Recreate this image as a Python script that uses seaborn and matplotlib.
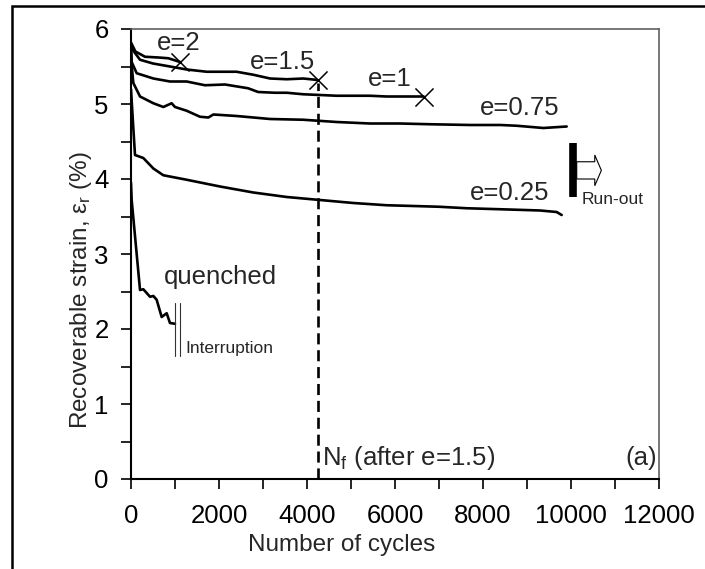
import numpy as np
import pandas as pd
import matplotlib
matplotlib.use("Agg")
import matplotlib.pyplot as plt
import seaborn as sns
from matplotlib.patches import Rectangle, FancyArrow
from matplotlib.ticker import MultipleLocator

# ---------------- data ----------------
e2_x = [0, 100, 318, 621, 848, 1114]
e2_y = [5.82, 5.70, 5.63, 5.62, 5.61, 5.56]

e15_x = [0, 15, 205, 500, 886, 1265, 1720, 2400, 2780, 3160, 3540, 3916, 4242]
e15_y = [5.80, 5.74, 5.59, 5.54, 5.50, 5.46, 5.43, 5.43, 5.39, 5.34, 5.33, 5.34, 5.32]

e1_x = [0, 15, 130, 508, 886, 1265, 1680, 2136, 2660, 2890, 3270, 3540, 3910,
        4295, 4674, 5045, 5430, 5810, 6200, 6650]
e1_y = [5.76, 5.56, 5.41, 5.34, 5.30, 5.30, 5.25, 5.26, 5.21, 5.16, 5.15, 5.15, 5.13,
        5.12, 5.11, 5.11, 5.11, 5.10, 5.10, 5.10]

e075_x = [0, 15, 53, 205, 508, 735, 924, 1000, 1265, 1568, 1758, 1871, 2400, 3160,
          3916, 4674, 5430, 6114, 6800, 7705, 8400, 8765, 9371, 9902]
e075_y = [5.70, 5.52, 5.28, 5.10, 5.01, 4.96, 5.01, 4.96, 4.91, 4.83, 4.82, 4.86, 4.84, 4.80,
          4.79, 4.76, 4.74, 4.74, 4.73, 4.72, 4.72, 4.71, 4.68, 4.70]

e025_x = [0, 40, 91, 280, 508, 735, 1265, 2023, 2780, 3540, 4295, 5053, 5811, 6417,
          7000, 7630, 8200, 8765, 9300, 9674, 9788]
e025_y = [5.20, 4.80, 4.32, 4.28, 4.14, 4.05, 3.99, 3.90, 3.82, 3.76, 3.72, 3.68, 3.65, 3.64,
          3.63, 3.61, 3.60, 3.59, 3.58, 3.56, 3.52]

q_x = [0, 15, 205, 280, 356, 432, 508, 583, 697, 811, 886, 1000]
q_y = [3.95, 3.72, 2.52, 2.53, 2.48, 2.43, 2.44, 2.39, 2.16, 2.21, 2.08, 2.07]

series_names = ["e=2", "e=1.5", "e=1", "e=0.75", "e=0.25", "quenched"]
failed = ["e=2", "e=1.5", "e=1"]
nf_cycles = 4250
interruption_x = [1000, 1114]
runout_x = 10045

x_ticks = [0, 2000, 4000, 6000, 8000, 10000, 12000]
y_ticks = [0, 1, 2, 3, 4, 5, 6]

series = {
    "e=2": (e2_x, e2_y), "e=1.5": (e15_x, e15_y), "e=1": (e1_x, e1_y),
    "e=0.75": (e075_x, e075_y), "e=0.25": (e025_x, e025_y), "quenched": (q_x, q_y),
}
df = pd.concat([pd.DataFrame({"cycles": sx, "strain": sy, "series": n})
                for n, (sx, sy) in series.items()], ignore_index=True)

# ---------------- style ----------------
sns.set_style("ticks")
plt.rcParams["font.family"] = ["Liberation Sans", "DejaVu Sans"]
plt.rcParams["mathtext.fontset"] = "custom"
plt.rcParams["mathtext.rm"] = "Liberation Sans"
plt.rcParams["mathtext.it"] = "Liberation Sans:italic"

FS = 18.5
FS_AX = 17.5
FS_S = 12.5

fig = plt.figure(figsize=(7.05, 5.69), dpi=100)
ax = fig.add_axes([131/705, 1-479/569, (659-131)/705, (479-29)/569])

sns.lineplot(data=df, x="cycles", y="strain", hue="series", units="series",
             estimator=None, sort=False, palette=["black"]*len(series_names),
             legend=False, lw=1.9, ax=ax)

# failure crosses
ends = df[df.series.isin(failed)].groupby("series").tail(1)
sns.scatterplot(data=ends, x="cycles", y="strain", marker="x", s=170,
                color="black", linewidth=1.1, ax=ax, zorder=5, legend=False)

# N_f dashed line
ax.plot([nf_cycles, nf_cycles], [0, 5.28], color="black", lw=1.9,
        linestyle=(0, (4.2, 2.2)))

# interruption marks
for ix in interruption_x:
    ax.plot([ix, ix], [1.64, 2.35], color="#333333", lw=0.8)

# run-out bar and arrow
ax.plot([runout_x, runout_x], [3.76, 4.48], color="black", lw=5.5, solid_capstyle="butt")
ax.add_patch(FancyArrow(10130, 4.115, 560, 0, width=0.23, head_width=0.41,
                        head_length=150, length_includes_head=True,
                        fill=False, lw=0.8, ec="black"))

# labels
ax.text(1076, 5.81, "e=2", fontsize=FS, ha="center", va="center")
ax.text(3450, 5.56, "e=1.5", fontsize=FS, ha="center", va="center")
ax.text(5886, 5.34, "e=1", fontsize=FS, ha="center", va="center")
ax.text(8841, 4.94, "e=0.75", fontsize=FS, ha="center", va="center")
ax.text(8614, 3.81, "e=0.25", fontsize=FS, ha="center", va="center")
ax.text(2023, 2.69, "quenched", fontsize=FS, ha="center", va="center")
ax.text(1227, 1.74, "Interruption", fontsize=FS_S, ha="left", va="center")
ax.text(10250, 3.73, "Run-out", fontsize=FS_S, ha="left", va="center")
ax.text(4350, 0.28, r"N$_\mathregular{f}$ (after e=1.5)", fontsize=FS, ha="left", va="center")
ax.text(11950, 0.28, "(a)", fontsize=FS, ha="right", va="center")

# axes
ax.set_xlim(0, 12000)
ax.set_ylim(0, 6)
ax.set_xticks(x_ticks)
ax.set_yticks(y_ticks)
ax.xaxis.set_minor_locator(MultipleLocator(1000))
ax.yaxis.set_minor_locator(MultipleLocator(0.5))
ax.tick_params(axis="both", which="both", direction="out", length=7, width=1.2,
               colors="black", labelsize=FS)
ax.tick_params(axis="x", which="major", pad=11)
ax.tick_params(axis="y", which="major", pad=9)
ax.set_xlabel("Number of cycles", fontsize=FS_AX)
ax.set_ylabel(r"Recoverable strain, ε$_\mathregular{r}$ (%)", fontsize=FS_AX)
ax.xaxis.set_label_coords(0.398, -0.123)
ax.yaxis.set_label_coords(-0.07, 0.42)

for s in ["left", "bottom"]:
    ax.spines[s].set_color("black")
    ax.spines[s].set_linewidth(1.5)
for s in ["top", "right"]:
    ax.spines[s].set_visible(True)
    ax.spines[s].set_color("#606060")
    ax.spines[s].set_linewidth(1.2)

# outer frame (cropped at right and bottom)
fig.patches.append(Rectangle((12/705, -0.1), 1.2, (1 - 6/569) + 0.1,
                             transform=fig.transFigure, fill=False,
                             lw=1.8, ec="black", clip_on=False))

fig.savefig("out.png", dpi=100)
